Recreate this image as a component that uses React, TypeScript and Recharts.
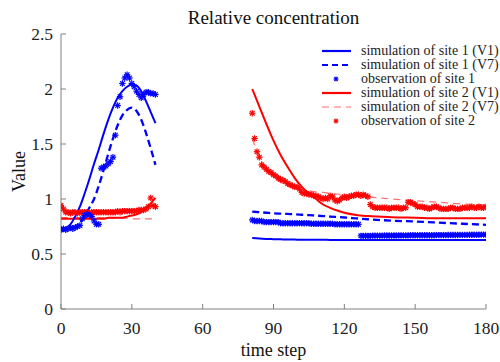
import { ComposedChart, Line, Scatter, XAxis, YAxis } from 'recharts'

const BLUE = '#0000ff'
const RED = '#ff0000'
const LIGHT_RED = '#ff6f6f'
const AXIS = '#808080'
const FONT = '"Liberation Serif", "Times New Roman", serif'

// simulaciones, tramo izquierdo (time step 0..40)
const leftSteps = [0, 2, 4, 6, 8, 10, 12, 14, 16, 18, 20, 22, 24, 26, 28, 30, 32, 34, 36, 38, 40]
const site1V1Left = [0.72, 0.73, 0.77, 0.84, 0.93, 1.05, 1.18, 1.32, 1.45, 1.59, 1.72, 1.83, 1.92, 1.98, 2.02, 2.04, 2.03, 1.98, 1.89, 1.79, 1.69]
const site1V7Left = [0.72, 0.72, 0.73, 0.75, 0.78, 0.84, 0.92, 1.0, 1.12, 1.26, 1.41, 1.55, 1.67, 1.76, 1.81, 1.83, 1.8, 1.72, 1.6, 1.46, 1.31]
const site2V1Left = [0.82, 0.82, 0.82, 0.82, 0.82, 0.82, 0.82, 0.82, 0.82, 0.82, 0.83, 0.83, 0.83, 0.83, 0.84, 0.85, 0.86, 0.88, 0.92, 0.96, 1.01]
const site2V7Left = [0.83, 0.83, 0.83, 0.83, 0.83, 0.83, 0.83, 0.83, 0.83, 0.83, 0.825, 0.825, 0.825, 0.825, 0.825, 0.82, 0.82, 0.82, 0.82, 0.82, 0.82]

// simulaciones, tramo derecho (time step 81..180)
const rightSteps = [81, 84, 87, 90, 93, 96, 99, 102, 105, 108, 111, 114, 117, 120, 125, 130, 140, 150, 160, 170, 180]
const site1V1Right = [0.645, 0.64, 0.637, 0.635, 0.633, 0.632, 0.631, 0.63, 0.63, 0.629, 0.629, 0.628, 0.628, 0.628, 0.628, 0.628, 0.628, 0.628, 0.628, 0.628, 0.628]
const site1V7Right = [0.885, 0.88, 0.875, 0.87, 0.867, 0.864, 0.861, 0.857, 0.853, 0.849, 0.845, 0.84, 0.836, 0.832, 0.824, 0.816, 0.803, 0.795, 0.785, 0.775, 0.765]
const site2V1Right = [2.0, 1.84, 1.68, 1.53, 1.4, 1.29, 1.19, 1.11, 1.05, 1.0, 0.95, 0.92, 0.895, 0.875, 0.855, 0.845, 0.835, 0.83, 0.825, 0.825, 0.825]
const site2V7Right = [1.55, 1.38, 1.27, 1.2, 1.15, 1.12, 1.1, 1.085, 1.075, 1.065, 1.06, 1.05, 1.045, 1.04, 1.03, 1.02, 1.0, 0.985, 0.97, 0.955, 0.945]

// observaciones, un valor por time step
const obsLeftStart = 0
const obsRightStart = 81
const site1ObsLeft = [0.72, 0.73, 0.72, 0.73, 0.74, 0.73, 0.74, 0.75, 0.76, 0.82, 0.85, 0.86, 0.86, 0.84, 0.8, 0.77, 0.77, 1.28, 1.29, 1.3, 1.32, 1.34, 1.38, 1.58, 1.85, 1.93, 2.05, 2.1, 2.13, 2.1, 2.05, 2.02, 1.98, 1.95, 1.92, 1.95, 1.97, 1.97, 1.96, 1.96, 1.95]
const site2ObsLeft = [0.94, 0.91, 0.88, 0.88, 0.87, 0.88, 0.88, 0.87, 0.88, 0.88, 0.88, 0.88, 0.87, 0.88, 0.88, 0.88, 0.88, 0.88, 0.88, 0.88, 0.88, 0.88, 0.88, 0.88, 0.89, 0.88, 0.89, 0.89, 0.89, 0.89, 0.89, 0.89, 0.89, 0.9, 0.9, 0.9, 0.91, 0.93, 1.01, 0.94, 0.93]
const site1ObsRight = [
  0.81, 0.8, 0.8, 0.8, 0.8, 0.79, 0.79, 0.79, 0.79, 0.79, 0.79, 0.79, 0.78, 0.78, 0.78, 0.78, 0.78, 0.78, 0.78, 0.78,
  0.78, 0.78, 0.78, 0.78, 0.78, 0.775, 0.775, 0.775, 0.775, 0.775, 0.775, 0.775, 0.775, 0.775, 0.775, 0.77, 0.77, 0.77, 0.77, 0.77,
  0.77, 0.77, 0.77, 0.77, 0.77, 0.77, 0.665, 0.665, 0.665, 0.665, 0.665, 0.667, 0.667, 0.667, 0.667, 0.667, 0.668, 0.668, 0.668, 0.668,
  0.668, 0.668, 0.669, 0.669, 0.669, 0.669, 0.669, 0.67, 0.67, 0.67, 0.67, 0.67, 0.67, 0.67, 0.671, 0.671, 0.671, 0.671, 0.672, 0.672,
  0.672, 0.672, 0.672, 0.673, 0.673, 0.673, 0.673, 0.673, 0.674, 0.674, 0.674, 0.674, 0.675, 0.675, 0.675, 0.675, 0.675, 0.676, 0.676, 0.676,
]
const site2ObsRight = [
  1.78, 1.55, 1.43, 1.38, 1.31, 1.29, 1.27, 1.25, 1.24, 1.22, 1.21, 1.19, 1.18, 1.17, 1.16, 1.14, 1.13, 1.12, 1.11, 1.11,
  1.09, 1.06, 1.05, 1.05, 1.04, 1.04, 1.03, 1.03, 1.02, 1.01, 1.0, 1.01, 1.0, 1.03, 1.02, 0.99, 0.98, 0.99, 1.01, 1.02,
  1.01, 1.02, 1.03, 1.03, 1.04, 1.04, 1.03, 1.04, 1.03, 1.02, 0.95, 0.93, 0.92, 0.92, 0.92, 0.92, 0.92, 0.92, 0.91, 0.92,
  0.92, 0.92, 0.92, 0.91, 0.92, 0.92, 0.97, 0.97, 0.96, 0.95, 0.93, 0.93, 0.93, 0.92, 0.92, 0.91, 0.92, 0.93, 0.93, 0.92,
  0.91, 0.91, 0.91, 0.91, 0.92, 0.92, 0.91, 0.91, 0.91, 0.92, 0.92, 0.92, 0.92, 0.93, 0.92, 0.92, 0.93, 0.92, 0.92, 0.93,
]

const xTicks = [0, 30, 60, 90, 120, 150, 180]
const yTicks = [0, 0.5, 1, 1.5, 2, 2.5]

type Pt = { x: number; y: number | null }

const seg = (xs: number[], ys: number[]): Pt[] => xs.map((x, i) => ({ x, y: ys[i] }))
// un null en medio corta la línea entre los dos tramos
const twoSeg = (l: number[], r: number[]): Pt[] => [...seg(leftSteps, l), { x: 60, y: null }, ...seg(rightSteps, r)]
const obs = (start: number, ys: number[]): Pt[] => ys.map((y, i) => ({ x: start + i, y }))

const site1V1 = twoSeg(site1V1Left, site1V1Right)
const site1V7 = twoSeg(site1V7Left, site1V7Right)
const site2V1 = twoSeg(site2V1Left, site2V1Right)
const site2V7 = twoSeg(site2V7Left, site2V7Right)
const site1Obs = [...obs(obsLeftStart, site1ObsLeft), ...obs(obsRightStart, site1ObsRight)]
const site2Obs = [...obs(obsLeftStart, site2ObsLeft), ...obs(obsRightStart, site2ObsRight)]

const legendItems = [
  { name: 'simulation of site 1 (V1)', color: BLUE, kind: 'solid' },
  { name: 'simulation of site 1 (V7)', color: BLUE, kind: 'dashed' },
  { name: 'observation of site 1', color: BLUE, kind: 'marker' },
  { name: 'simulation of site 2 (V1)', color: RED, kind: 'solid' },
  { name: 'simulation of site 2 (V7)', color: LIGHT_RED, kind: 'thin' },
  { name: 'observation of site 2', color: RED, kind: 'marker' },
]

function Asterisk({ cx, cy, color, r = 3.2 }: { cx?: number; cy?: number; color: string; r?: number }) {
  if (cx == null || cy == null) return null
  const d = r * 0.72
  return (
    <g stroke={color} strokeWidth={1.2}>
      <line x1={cx - r} x2={cx + r} y1={cy} y2={cy} />
      <line x1={cx} x2={cx} y1={cy - r} y2={cy + r} />
      <line x1={cx - d} x2={cx + d} y1={cy - d} y2={cy + d} />
      <line x1={cx - d} x2={cx + d} y1={cy + d} y2={cy - d} />
    </g>
  )
}

const TICK_GAP = 12
const TICK_LEN = 5

// ticks hacia dentro, estilo MATLAB
const BottomTick = ({ x, y, payload }: any) => (
  <g>
    <line x1={x} x2={x} y1={y - TICK_GAP} y2={y - TICK_GAP - TICK_LEN} stroke={AXIS} />
    <text x={x} y={y} dy="0.72em" textAnchor="middle" fill="#222" fontSize={17.5} fontFamily={FONT}>
      {payload.value}
    </text>
  </g>
)

const LeftTick = ({ x, y, payload }: any) => (
  <g>
    <line x1={x + 8} x2={x + 8 + TICK_LEN} y1={y} y2={y} stroke={AXIS} />
    <text x={x} y={y} dy="0.35em" textAnchor="end" fill="#222" fontSize={17.5} fontFamily={FONT}>
      {payload.value}
    </text>
  </g>
)

const TopTick = ({ x, y }: any) => <line x1={x} x2={x} y1={y} y2={y + TICK_LEN} stroke={AXIS} />
const RightTick = ({ x, y }: any) => <line x1={x} x2={x - TICK_LEN} y1={y} y2={y} stroke={AXIS} />

function LegendBox() {
  return (
    <div
      style={{
        position: 'absolute',
        left: 318,
        top: 43.7,
        fontFamily: FONT,
        fontSize: 14,
        color: '#222',
        lineHeight: '14px',
      }}
    >
      {legendItems.map((item) => (
        <div key={item.name} style={{ display: 'flex', alignItems: 'center', height: 14 }}>
          <svg width={43} height={10} style={{ flexShrink: 0 }}>
            {item.kind === 'marker' ? (
              <Asterisk cx={18} cy={5} color={item.color} r={2.4} />
            ) : (
              <line
                x1={4}
                x2={33}
                y1={5}
                y2={5}
                stroke={item.color}
                strokeWidth={item.kind === 'thin' ? 1.2 : 2.2}
                strokeDasharray={item.kind === 'dashed' ? '6 4' : item.kind === 'thin' ? '7 5' : undefined}
              />
            )}
          </svg>
          <span style={{ whiteSpace: 'nowrap' }}>{item.name}</span>
        </div>
      ))}
    </div>
  )
}

export default function App() {
  return (
    <div style={{ position: 'absolute', left: 0, top: 0, width: 500, height: 362, background: '#fff' }}>
      <ComposedChart width={500} height={362} margin={{ top: 34, right: 14, bottom: 0, left: 0 }}>
        <XAxis
          dataKey="x"
          type="number"
          domain={[0, 180]}
          ticks={xTicks}
          height={53}
          tickSize={0}
          tickMargin={TICK_GAP}
          tickLine={false}
          tick={<BottomTick />}
          axisLine={{ stroke: AXIS }}
          allowDataOverflow
          label={{ value: 'time step', position: 'center', dy: 14, fontSize: 18, fontFamily: FONT, fill: '#111' }}
        />
        <XAxis
          xAxisId="top"
          orientation="top"
          type="number"
          domain={[0, 180]}
          ticks={xTicks}
          height={0}
          tickSize={0}
          tickMargin={0}
          tickLine={false}
          tick={<TopTick />}
          axisLine={{ stroke: AXIS }}
        />
        <YAxis
          dataKey="y"
          type="number"
          domain={[0, 2.5]}
          ticks={yTicks}
          width={61}
          tickSize={0}
          tickMargin={8}
          tickLine={false}
          tick={<LeftTick />}
          axisLine={{ stroke: AXIS }}
          allowDataOverflow
          label={{ value: 'Value', angle: -90, position: 'center', dx: -12, fontSize: 18, fontFamily: FONT, fill: '#111' }}
        />
        <YAxis
          yAxisId="right"
          orientation="right"
          type="number"
          domain={[0, 2.5]}
          ticks={yTicks}
          width={0}
          tickSize={0}
          tickMargin={0}
          tickLine={false}
          tick={<RightTick />}
          axisLine={{ stroke: AXIS }}
        />

        <Line data={site2V7} dataKey="y" type="monotone" stroke={LIGHT_RED} strokeWidth={1.2} strokeDasharray="7 5" dot={false} activeDot={false} isAnimationActive={false} />
        <Scatter data={site2Obs} dataKey="y" shape={(p: any) => <Asterisk cx={p.cx} cy={p.cy} color={RED} />} isAnimationActive={false} />
        <Line data={site2V1} dataKey="y" type="monotone" stroke={RED} strokeWidth={2} dot={false} activeDot={false} isAnimationActive={false} />
        <Scatter data={site1Obs} dataKey="y" shape={(p: any) => <Asterisk cx={p.cx} cy={p.cy} color={BLUE} />} isAnimationActive={false} />
        <Line data={site1V7} dataKey="y" type="monotone" stroke={BLUE} strokeWidth={2.3} strokeDasharray="7 4" dot={false} activeDot={false} isAnimationActive={false} />
        <Line data={site1V1} dataKey="y" type="monotone" stroke={BLUE} strokeWidth={2} dot={false} activeDot={false} isAnimationActive={false} />
      </ComposedChart>
      <div
        style={{
          position: 'absolute',
          left: 61,
          width: 425,
          top: 7,
          textAlign: 'center',
          fontFamily: FONT,
          fontSize: 19,
          color: '#111',
        }}
      >
        Relative concentration
      </div>
      <LegendBox />
    </div>
  )
}
